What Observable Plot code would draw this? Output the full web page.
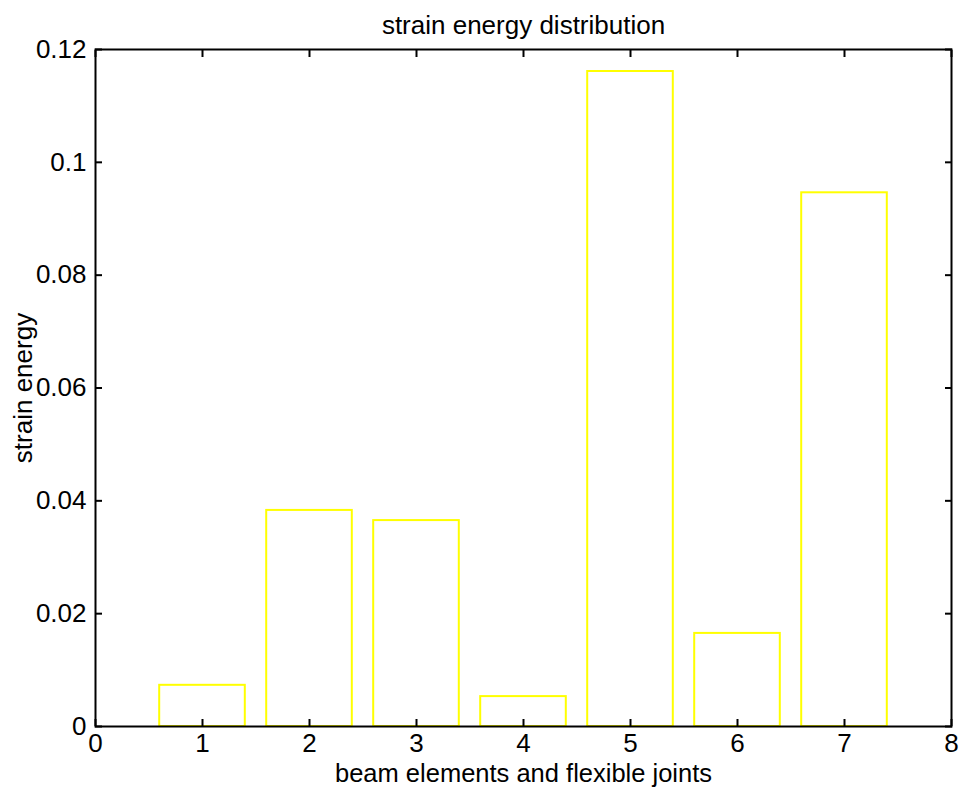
<!DOCTYPE html>
<html>
<head>
<meta charset="utf-8">
<script src="https://cdn.jsdelivr.net/npm/d3@7"></script>
<script src="https://cdn.jsdelivr.net/npm/@observablehq/plot@0.6"></script>
<style>
  html, body { margin: 0; padding: 0; background: #fff; }
  #chart svg { display: block; }
</style>
</head>
<body>
<div id="chart"></div>
<script>
const elements = [1, 2, 3, 4, 5, 6, 7];
const energy = [0.0073, 0.0383, 0.0365, 0.0053, 0.1161, 0.0165, 0.0946];
const xTicks = [0, 1, 2, 3, 4, 5, 6, 7, 8];
const yTicks = [0, 0.02, 0.04, 0.06, 0.08, 0.1, 0.12];
const barWidth = 0.8;

const data = elements.map((e, i) => ({x1: e - barWidth / 2, x2: e + barWidth / 2, y: energy[i]}));

const font = "Liberation Sans, Arial, Helvetica, sans-serif";
const fs = 26;

const chart = Plot.plot({
  width: 962,
  height: 787,
  marginLeft: 95,
  marginRight: 11,
  marginTop: 49,
  marginBottom: 61,
  style: {fontFamily: font, fontSize: fs + "px", color: "#000", background: "#fff"},
  x: {domain: [0, 8], ticks: xTicks, label: null},
  y: {domain: [0, 0.12], ticks: yTicks, label: null},
  marks: [
    Plot.rectY(data, {x1: "x1", x2: "x2", y: "y", fill: "white", stroke: "#ffff00", strokeWidth: 2}),
    Plot.frame({stroke: "#000", strokeWidth: 2}),
    Plot.axisX({ticks: xTicks, tickSize: -7, text: null, strokeWidth: 2}),
    Plot.axisX({anchor: "top", ticks: xTicks, tickSize: -7, text: null, strokeWidth: 2}),
    Plot.axisY({ticks: yTicks, tickSize: -7, text: null, strokeWidth: 2}),
    Plot.axisY({anchor: "right", ticks: yTicks, tickSize: -7, text: null, strokeWidth: 2}),
    Plot.axisX({ticks: xTicks, tickSize: 0, tickPadding: 7, tickFormat: d => String(d), fontSize: fs, label: null}),
    Plot.axisY({ticks: yTicks, tickSize: 0, tickPadding: 9, tickFormat: d => String(+d.toFixed(2)), fontSize: fs, label: null}),
    Plot.text(["strain energy distribution"], {frameAnchor: "top", lineAnchor: "middle", dy: -24, fontSize: fs, text: d => d}),
    Plot.text(["beam elements and flexible joints"], {frameAnchor: "bottom", lineAnchor: "middle", dy: 47, fontSize: 25.5, text: d => d}),
    Plot.text(["strain energy"], {frameAnchor: "left", textAnchor: "middle", lineAnchor: "middle", dx: -72, rotate: -90, fontSize: fs, text: d => d})
  ]
});
document.getElementById("chart").appendChild(chart);
</script>
</body>
</html>
